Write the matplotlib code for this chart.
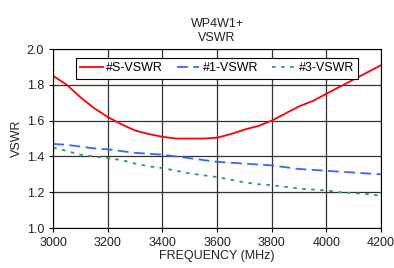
import matplotlib
matplotlib.use("Agg")
import matplotlib.pyplot as plt
import numpy as np

plt.rcParams['font.family'] = ['Liberation Sans', 'DejaVu Sans']

freq = [3000, 3050, 3100, 3150, 3200, 3250, 3300, 3350, 3400, 3450, 3500, 3550, 3600,
        3650, 3700, 3750, 3800, 3850, 3900, 3950, 4000, 4050, 4100, 4150, 4200]
vswr_s = [1.85, 1.80, 1.73, 1.67, 1.62, 1.58, 1.545, 1.525, 1.51, 1.50, 1.50, 1.50, 1.505,
          1.525, 1.55, 1.57, 1.60, 1.64, 1.68, 1.71, 1.75, 1.79, 1.83, 1.87, 1.91]
vswr_1 = [1.47, 1.465, 1.455, 1.445, 1.44, 1.43, 1.42, 1.415, 1.41, 1.40, 1.39, 1.38, 1.37,
          1.365, 1.36, 1.355, 1.35, 1.34, 1.33, 1.325, 1.32, 1.315, 1.31, 1.305, 1.30]
vswr_3 = [1.45, 1.43, 1.41, 1.40, 1.39, 1.38, 1.36, 1.345, 1.335, 1.32, 1.305, 1.295, 1.285,
          1.27, 1.255, 1.245, 1.24, 1.23, 1.22, 1.215, 1.21, 1.20, 1.195, 1.19, 1.18]

fig = plt.figure(figsize=(3.94, 2.68), dpi=100)
ax = fig.add_axes([0.135, 0.149, 0.832, 0.668])

ax.plot(freq, vswr_s, color='#ff0000', lw=1.3, label='#S-VSWR')
ax.plot(freq, vswr_1, color='#3366ff', lw=1.3, ls=(0, (6, 3)), label='#1-VSWR')
ax.plot(freq, vswr_3, color='#339966', lw=1.3, ls=(0, (2, 3)), label='#3-VSWR')

ax.set_xlim(3000, 4200)
ax.set_ylim(1.0, 2.0)
ax.set_xticks(np.arange(3000, 4201, 200))
ax.set_yticks(np.arange(1.0, 2.01, 0.2))
ax.yaxis.set_major_formatter(matplotlib.ticker.FormatStrFormatter('%.1f'))
ax.grid(color='#333333', lw=0.9)
ax.tick_params(labelsize=9, length=3, width=0.8, colors='black', labelcolor='#222222')
for s in ax.spines.values():
    s.set_linewidth(0.8)
ax.set_xlabel('FREQUENCY (MHz)', fontsize=9, labelpad=1, color='#222222')
ax.set_ylabel('VSWR', fontsize=9, labelpad=3, color='#222222')
ax.set_title('WP4W1+\nVSWR', fontsize=9, pad=6, linespacing=1.15, color='#222222')

leg = ax.legend(loc='upper center', ncol=3, fontsize=9, frameon=True, fancybox=False,
                edgecolor='black', framealpha=1, borderpad=0.35, handlelength=1.8,
                handletextpad=0.3, columnspacing=1.1, bbox_to_anchor=(0.5, 0.985))
leg.get_frame().set_linewidth(0.8)

fig.savefig('out.png', dpi=100)
